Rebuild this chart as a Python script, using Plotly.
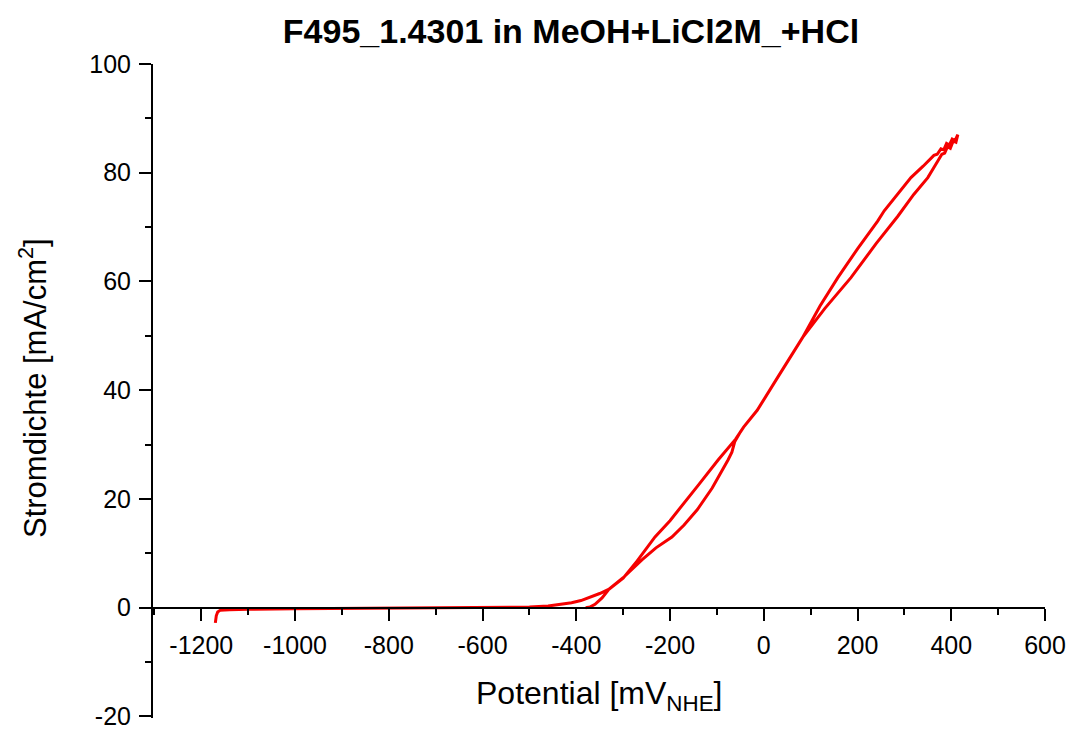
import plotly.graph_objects as go

# Cyclic polarisation scan: potential (mV vs NHE) and current density (mA/cm²)
forward_potential = [
    -1170, -1168, -1165, -1160, -1140, -1100, -1000, -900, -800, -700, -600,
    -500, -460, -430, -410, -390, -370, -350, -330,
    -300, -270, -232, -200, -182, -140, -97, -60, -43, -14, 30, 83,
    120, 158, 200, 243, 257, 290, 314, 340, 357, 363, 370, 378, 384, 390, 396, 402, 408, 414,
]
forward_current = [
    -2.8, -1.5, -0.8, -0.5, -0.4, -0.3, -0.2, -0.15, -0.1, -0.05, 0.0,
    0.1, 0.3, 0.6, 0.9, 1.3, 1.9, 2.6, 3.4,
    5.4, 8.6, 13.0, 16.0, 18.0, 22.5, 27.2, 31.0, 33.2, 36.3, 42.4, 49.7,
    55.5, 60.7, 66.0, 71.1, 73.0, 76.5, 79.1, 81.2, 82.8, 83.2, 83.4, 84.4, 84.2, 85.4, 85.1, 86.2, 85.9, 87.0,
]

reverse_potential = [
    414, 410, 404, 398, 392, 386, 380, 371, 350, 320, 286, 240, 186, 130, 83,
    30, -14, -43, -50, -62, -68, -76, -110, -142, -170, -196, -230, -260, -300, -330,
    -345, -360, -371, -380,
]
reverse_current = [
    87.0, 85.6, 85.8, 84.5, 84.8, 83.6, 83.4, 82.1, 79.1, 76.0, 72.0, 67.0, 60.7, 55.0, 49.7,
    42.4, 36.3, 33.2, 32.3, 30.5, 28.6, 27.2, 22.0, 18.0, 15.2, 13.0, 11.0, 8.8, 5.5, 3.4,
    1.8, 0.6, 0.1, 0.0,
]

x_tick_values = [-1200, -1000, -800, -600, -400, -200, 0, 200, 400, 600]
y_tick_values = [-20, 0, 20, 40, 60, 80, 100]

potential = forward_potential + reverse_potential
current = forward_current + reverse_current

font_family = "Liberation Sans, Arial, sans-serif"

fig = go.Figure(
    go.Scatter(
        x=potential,
        y=current,
        mode="lines",
        line=dict(color="rgb(245,0,0)", width=3),
        showlegend=False,
        hoverinfo="x+y",
    )
)

axis_common = dict(
    showline=True,
    linecolor="black",
    linewidth=2,
    ticks="outside",
    ticklen=12,
    tickwidth=2,
    tickcolor="black",
    showgrid=False,
    zeroline=False,
    automargin=False,
    ticklabeloverflow="allow",
    tickfont=dict(family=font_family, size=25, color="black"),
)

fig.update_layout(
    width=1072,
    height=729,
    paper_bgcolor="white",
    plot_bgcolor="white",
    margin=dict(l=153, r=27, t=64, b=11),
    title=dict(
        text="<b>F495_1.4301 in MeOH+LiCl2M_+HCl</b>",
        font=dict(family=font_family, size=34, color="black"),
        x=571 / 1072,
        xanchor="center",
        xref="container",
        y=1 - 31 / 729,
        yanchor="middle",
        yref="container",
    ),
    xaxis=dict(
        axis_common,
        range=[-1303, 600],
        tickmode="array",
        tickvals=x_tick_values,
        ticktext=[str(v) for v in x_tick_values],
        anchor="free",
        position=20.3 / 120.3,
        ticklabelstandoff=3,
        minor=dict(ticks="outside", ticklen=6, tickwidth=2, tickcolor="black", dtick=100, tick0=-1300),
    ),
    yaxis=dict(
        axis_common,
        range=[-20.3, 100],
        tickmode="array",
        tickvals=y_tick_values,
        ticktext=[str(v) for v in y_tick_values],
        ticklabelstandoff=3,
        minor=dict(ticks="outside", ticklen=6, tickwidth=2, tickcolor="black", dtick=10, tick0=-20),
    ),
    annotations=[
        dict(
            text="Potential [mV<sub>NHE</sub>]",
            xref="paper",
            yref="paper",
            x=0.5,
            y=(718 - 695) / 654,
            xanchor="center",
            yanchor="middle",
            showarrow=False,
            font=dict(family=font_family, size=32, color="black"),
        ),
        dict(
            text="Stromdichte [mA/cm<sup>2</sup>]",
            xref="paper",
            yref="paper",
            x=(33 - 153) / 892,
            y=(718 - 388) / 654,
            xanchor="center",
            yanchor="middle",
            textangle=-90,
            showarrow=False,
            font=dict(family=font_family, size=31, color="black"),
        ),
    ],
)

fig.write_html("out.html")
